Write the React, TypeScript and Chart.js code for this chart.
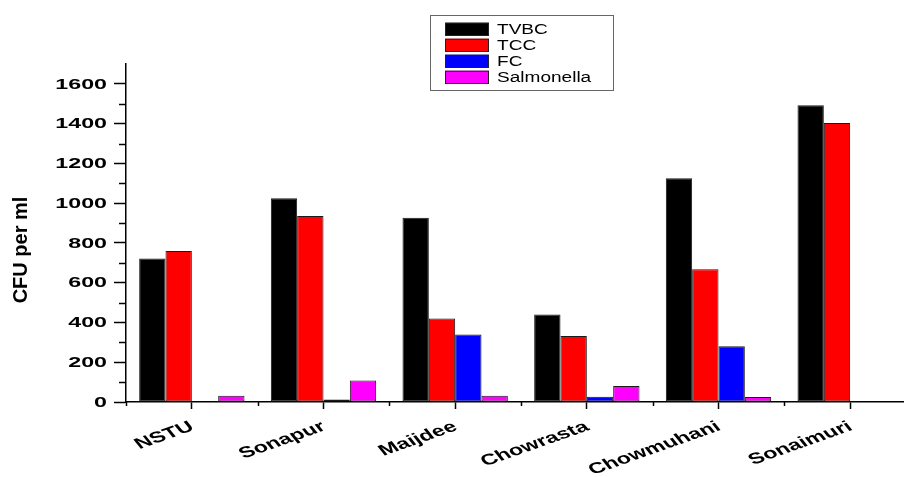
import { useEffect, useRef } from 'react';
import { Chart, registerables } from 'chart.js';

Chart.register(...registerables);

// ---- data ----
const CATEGORIES = ['NSTU', 'Sonapur', 'Maijdee', 'Chowrasta', 'Chowmuhani', 'Sonaimuri'];
const SERIES_LABELS = ['TVBC', 'TCC', 'FC', 'Salmonella'];
const TVBC = [722, 1025, 927, 440, 1125, 1493];
const TCC = [759, 935, 420, 332, 668, 1403];
const FC = [0, 13, 340, 26, 280, 0];
const SALMONELLA = [31, 108, 31, 80, 25, 0];
const SERIES_COLORS = ['#000000', '#ff0000', '#0000ff', '#ff00ff'];
const Y_MIN = 0;
const Y_MAX = 1700;
const Y_STEP = 200;
const Y_TITLE = 'CFU per ml';

const FONT = '"Liberation Sans", Arial, sans-serif';

function drawText(
  ctx: CanvasRenderingContext2D,
  text: string,
  x: number,
  y: number,
  o: { font: string; sx?: number; align: CanvasTextAlign; baseline: CanvasTextBaseline; rot?: number }
) {
  ctx.save();
  ctx.translate(x, y);
  ctx.scale(o.sx ?? 1, 1);
  if (o.rot) ctx.rotate(o.rot);
  ctx.font = o.font;
  ctx.fillStyle = '#000';
  ctx.textAlign = o.align;
  ctx.textBaseline = o.baseline;
  ctx.fillText(text, 0, 0);
  ctx.restore();
}

const decorPlugin = {
  id: 'decor',
  afterDraw(chart: any) {
    const ctx: CanvasRenderingContext2D = chart.ctx;
    const xs = chart.scales.x;
    const ys = chart.scales.y;
    const area = chart.chartArea;

    ctx.save();
    ctx.strokeStyle = '#000';
    ctx.lineWidth = 1.5;
    // minor y ticks
    for (let v = Y_MIN + Y_STEP / 2; v < Y_MAX - 1; v += Y_STEP) {
      const y = Math.round(ys.getPixelForValue(v)) + 0.5;
      ctx.beginPath();
      ctx.moveTo(area.left - 7, y);
      ctx.lineTo(area.left, y);
      ctx.stroke();
    }
    // minor x ticks at category boundaries
    for (let i = 0; i <= CATEGORIES.length; i++) {
      const x = Math.round(xs.getPixelForValue(i - 0.5)) + 0.5;
      ctx.beginPath();
      ctx.moveTo(x, area.bottom);
      ctx.lineTo(x, area.bottom + 4);
      ctx.stroke();
    }
    ctx.restore();

    // y tick labels
    ys.ticks.forEach((t: any) => {
      const y = ys.getPixelForValue(t.value);
      drawText(ctx, String(t.value), 107, y + 0.5, {
        font: `bold 15.4px ${FONT}`,
        sx: 1.51,
        align: 'right',
        baseline: 'middle',
      });
    });

    // x tick labels (rotated)
    CATEGORIES.forEach((c, i) => {
      const x = xs.getPixelForValue(i);
      drawText(ctx, c, x - 5, area.bottom + 17, {
        font: `bold 15.4px ${FONT}`,
        sx: 1.51,
        align: 'right',
        baseline: 'top',
        rot: (-28 * Math.PI) / 180,
      });
    });

    // y title
    drawText(ctx, Y_TITLE, 26.5, 250, {
      font: `bold 20px ${FONT}`,
      align: 'center',
      baseline: 'alphabetic',
      rot: -Math.PI / 2,
    });

    // legend
    ctx.save();
    ctx.strokeStyle = '#666';
    ctx.lineWidth = 1;
    ctx.strokeRect(430.5, 15.5, 183, 75);
    chart.data.datasets.forEach((ds: any, i: number) => {
      const top = 22.7 + 16 * i;
      ctx.fillStyle = ds.backgroundColor;
      ctx.fillRect(445, top, 44, 13.3);
      ctx.strokeStyle = '#222';
      ctx.strokeRect(445.5, top + 0.5, 43, 12.3);
      drawText(ctx, ds.label, 497, top + 7.2, {
        font: `14px ${FONT}`,
        sx: 1.36,
        align: 'left',
        baseline: 'middle',
      });
    });
    ctx.restore();
  },
};

export default function App() {
  const ref = useRef<HTMLCanvasElement | null>(null);

  useEffect(() => {
    if (!ref.current) return;
    const values = [TVBC, TCC, FC, SALMONELLA];
    const chart = new Chart(ref.current, {
      type: 'bar',
      data: {
        labels: CATEGORIES,
        datasets: SERIES_LABELS.map((label, i) => ({
          label,
          data: values[i],
          backgroundColor: SERIES_COLORS[i],
          borderColor: '#1a1a1a',
          borderWidth: 1,
          borderSkipped: false,
          categoryPercentage: 0.8,
          barPercentage: 1.0,
        })),
      },
      options: {
        responsive: false,
        maintainAspectRatio: false,
        animation: false,
        devicePixelRatio: 1,
        layout: { padding: { top: 64, right: 4, left: 0, bottom: 0 } },
        plugins: {
          legend: { display: false },
          tooltip: { enabled: false },
          title: { display: false },
        },
        scales: {
          x: {
            type: 'category',
            offset: true,
            grid: {
              offset: false,
              drawOnChartArea: false,
              drawTicks: true,
              tickLength: 7,
              tickWidth: 1.5,
              tickColor: '#000',
            },
            border: { display: true, color: '#000', width: 1.5 },
            ticks: { display: false },
            afterFit: (s: any) => {
              s.height = 75;
            },
          },
          y: {
            min: Y_MIN,
            max: Y_MAX,
            grid: {
              drawOnChartArea: false,
              drawTicks: true,
              tickLength: 12,
              tickWidth: 1.5,
              tickColor: '#000',
            },
            border: { display: true, color: '#000', width: 1.5 },
            ticks: { display: false, stepSize: Y_STEP, includeBounds: false },
            afterFit: (s: any) => {
              s.width = 126;
            },
          },
        },
      },
      plugins: [decorPlugin],
    } as any);
    return () => chart.destroy();
  }, []);

  return (
    <div
      style={{
        position: 'fixed',
        left: 0,
        top: 0,
        width: 904,
        height: 477,
        overflow: 'hidden',
        background: '#fff',
      }}
    >
      <canvas ref={ref} width={920} height={477} style={{ width: 920, height: 477, display: 'block' }} />
    </div>
  );
}
